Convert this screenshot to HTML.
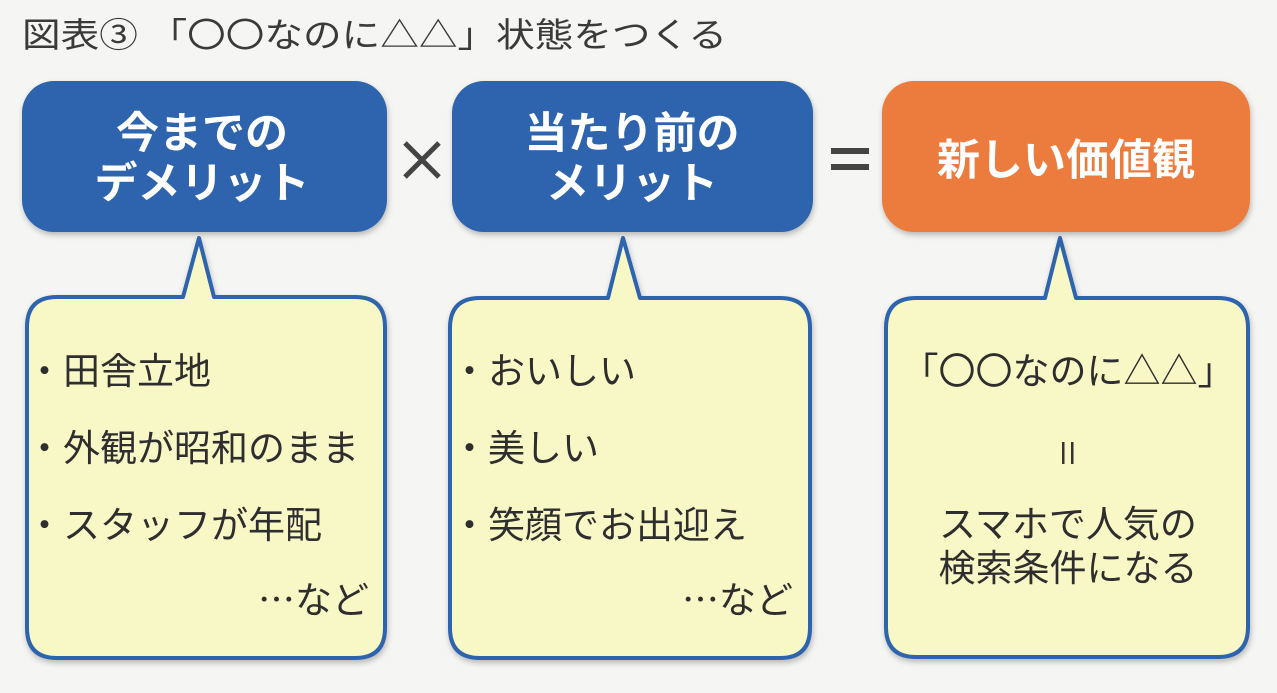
<!DOCTYPE html>
<html><head><meta charset="utf-8"><style>
html,body{margin:0;padding:0;background:#f5f5f3;}
svg{display:block}
text{font-family:"Liberation Sans","Noto Sans CJK JP",sans-serif;}
</style></head><body>
<svg width="1277" height="693" viewBox="0 0 1277 693" xmlns="http://www.w3.org/2000/svg">
<rect width="1277" height="693" fill="#f5f5f3"/>
<text x="22" y="47" font-size="34" fill="#3a3a3a" textLength="705" lengthAdjust="spacingAndGlyphs">図表③ 「〇〇なのに△△」状態をつくる</text>

<defs>
<filter id="sh" x="-10%" y="-10%" width="120%" height="130%"><feDropShadow dx="1" dy="3" stdDeviation="3" flood-color="#000" flood-opacity="0.25"/></filter>
</defs>

<rect x="22" y="81" width="365" height="151" rx="32" fill="#2d63ae" filter="url(#sh)"/>
<rect x="452" y="81" width="361" height="151" rx="32" fill="#2d63ae" filter="url(#sh)"/>
<rect x="882" y="81" width="368" height="151" rx="32" fill="#ec7b3c" filter="url(#sh)"/>
<g fill="#fff" font-size="43" font-weight="bold" text-anchor="middle">
<text x="202" y="148">今までの</text>
<text x="202" y="198">デメリット</text>
<text x="632" y="148">当たり前の</text>
<text x="632" y="198">メリット</text>
<text x="1066" y="175">新しい価値観</text>
</g>
<g stroke="#444" stroke-width="5">
<line x1="405" y1="143" x2="439" y2="177"/>
<line x1="439" y1="143" x2="405" y2="177"/>
</g>
<rect x="831" y="148" width="38" height="6" fill="#444"/>
<rect x="831" y="164" width="38" height="6" fill="#444"/>

<g fill="#f8f7c6" stroke="#2d63ae" stroke-width="4" stroke-linejoin="round" filter="url(#sh)">
<path d="M57,297 L183,297 L199,238 L214,297 L355,297 Q385,297 385,327 L385,628 Q385,658 355,658 L57,658 Q27,658 27,628 L27,327 Q27,297 57,297 Z"/>
<path d="M480,298 L608,298 L623,238 L640,298 L780,298 Q810,298 810,328 L810,628 Q810,658 780,658 L480,658 Q450,658 450,628 L450,328 Q450,298 480,298 Z"/>
<path d="M916,298 L1045,298 L1060,238 L1076,298 L1218,298 Q1248,298 1248,328 L1248,627 Q1248,657 1218,657 L916,657 Q886,657 886,627 L886,328 Q886,298 916,298 Z"/>
</g>
<g fill="#2e2e2e" font-size="37">
<text x="26" y="384">・田舎立地</text>
<text x="26" y="461">・外観が昭和のまま</text>
<text x="26" y="538">・スタッフが年配</text>
<text x="369" y="613" text-anchor="end">⋯など</text>
<text x="451" y="384">・おいしい</text>
<text x="451" y="461">・美しい</text>
<text x="451" y="538">・笑顔でお出迎え</text>
<text x="793" y="613" text-anchor="end">⋯など</text>
<g text-anchor="middle">
<text x="1068" y="384">「〇〇なのに△△」</text>
<text x="1068" y="537">スマホで人気の</text>
<text x="1068" y="581">検索条件になる</text>
</g>
</g>
<rect x="1062" y="442" width="2.5" height="22" fill="#333"/>
<rect x="1071" y="442" width="2.5" height="22" fill="#333"/>
</svg>
</body></html>
